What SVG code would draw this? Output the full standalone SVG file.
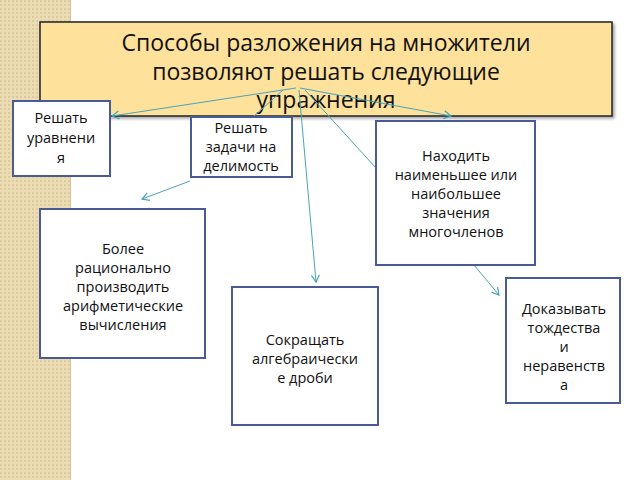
<svg xmlns="http://www.w3.org/2000/svg" width="640" height="480" viewBox="0 0 640 480">
<defs>
<pattern id="dots" width="4" height="4" patternUnits="userSpaceOnUse"><rect width="4" height="4" fill="#ecdcb4"/><rect width="2" height="2" fill="#dfcc9e"/></pattern>
<marker id="ah" markerWidth="10" markerHeight="10" refX="8" refY="5" orient="auto" markerUnits="userSpaceOnUse"><path d="M1,1 L8,5 L1,9" fill="none" stroke="#4aa3b8" stroke-width="1.2"/></marker>
<filter id="sh" x="-5%" y="-5%" width="115%" height="120%"><feDropShadow dx="2" dy="2" stdDeviation="1.5" flood-opacity="0.35"/></filter>
</defs>
<style>
.b{fill:#fff;stroke:#4a5a95;stroke-width:2}
.t{font-family:"Open Sans","DejaVu Sans",sans-serif;font-size:14.5px;fill:#111;text-anchor:middle}
.h{font-family:"Open Sans","DejaVu Sans",sans-serif;font-size:23px;fill:#111;text-anchor:middle}
.c{fill:none;stroke:#4aa3b8;stroke-width:1}
</style>
<rect width="640" height="480" fill="#fff"/>
<rect x="0" y="0" width="70" height="480" fill="url(#dots)"/>
<line x1="70.5" y1="0" x2="70.5" y2="480" stroke="#d8c79a"/>
<g id="title">
<rect x="40" y="22" width="572" height="94" fill="#fee19b" stroke="#222" stroke-width="1.5" filter="url(#sh)"/>
<text class="h" x="326" y="51">Способы разложения на множители</text>
<text class="h" x="326" y="80">позволяют решать следующие</text>
<text class="h" x="326" y="108">упражнения</text>
</g>
<g id="connectors">
<line class="c" x1="296" y1="88" x2="112" y2="116" marker-end="url(#ah)"/>
<line class="c" x1="300" y1="88" x2="451" y2="116" marker-end="url(#ah)"/>
<line class="c" x1="299" y1="90" x2="316" y2="282" marker-end="url(#ah)"/>
<line class="c" x1="305" y1="90" x2="376" y2="168"/>
<line class="c" x1="283" y1="90" x2="253" y2="117"/>
<line class="c" x1="190" y1="181" x2="142" y2="199" marker-end="url(#ah)"/>
<line class="c" x1="474" y1="265" x2="499" y2="295" marker-end="url(#ah)"/>
</g>
<g id="n1"><rect class="b" x="13" y="101" width="97" height="75"/>
<text class="t" x="61" y="123">Решать</text><text class="t" x="61" y="143">уравнени</text><text class="t" x="61" y="163">я</text></g>
<g id="n2"><rect class="b" x="191" y="117" width="101" height="60"/>
<text class="t" x="241" y="133">Решать</text><text class="t" x="241" y="152">задачи на</text><text class="t" x="241" y="171">делимость</text></g>
<g id="n3"><rect class="b" x="376" y="121" width="159" height="144"/>
<text class="t" x="456" y="161">Находить</text><text class="t" x="456" y="180">наименьшее или</text><text class="t" x="456" y="199">наибольшее</text><text class="t" x="456" y="218">значения</text><text class="t" x="456" y="237">многочленов</text></g>
<g id="n4"><rect class="b" x="40" y="209" width="165" height="149"/>
<text class="t" x="123" y="254">Более</text><text class="t" x="123" y="273">рационально</text><text class="t" x="123" y="292">производить</text><text class="t" x="123" y="311">арифметические</text><text class="t" x="123" y="330">вычисления</text></g>
<g id="n5"><rect class="b" x="232" y="287" width="146" height="138"/>
<text class="t" x="305" y="345">Сокращать</text><text class="t" x="305" y="364">алгебраически</text><text class="t" x="305" y="383">е дроби</text></g>
<g id="n6"><rect class="b" x="506" y="278" width="114" height="125"/>
<text class="t" x="564" y="314">Доказывать</text><text class="t" x="564" y="333">тождества</text><text class="t" x="564" y="352">и</text><text class="t" x="564" y="371">неравенств</text><text class="t" x="564" y="390">а</text></g>
</svg>
